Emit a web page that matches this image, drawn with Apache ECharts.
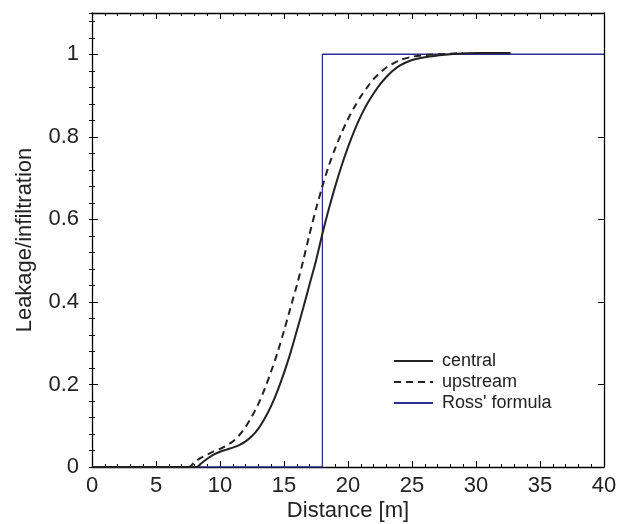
<!DOCTYPE html>
<html>
<head>
<meta charset="utf-8">
<script src="https://cdn.jsdelivr.net/npm/echarts@6/dist/echarts.min.js"></script>
<style>html,body{margin:0;padding:0;background:#fff}#c{width:629px;height:524px}</style>
</head>
<body>
<div id="c"></div>
<script>
// Central (solid) curve: [distance, leakage/infiltration]
const centralX = [0, 4, 8.2, 8.5, 9, 9.5, 10, 10.5, 11, 11.5, 12, 12.5, 13, 13.5, 14, 14.5, 15, 15.5, 16, 16.5, 17, 17.5, 18, 18.5, 19, 19.5, 20, 20.5, 21, 21.5, 22, 22.5, 23, 23.5, 24, 25, 26, 27, 28, 30, 32.7];
const centralY = [0, 0, 0, 0.008, 0.02, 0.03, 0.037, 0.042, 0.047, 0.053, 0.062, 0.075, 0.093, 0.118, 0.148, 0.185, 0.228, 0.276, 0.33, 0.385, 0.443, 0.5, 0.565, 0.625, 0.68, 0.73, 0.775, 0.815, 0.85, 0.88, 0.905, 0.927, 0.945, 0.96, 0.972, 0.986, 0.993, 0.997, 1.0, 1.003, 1.003];
// Upstream (dashed) curve
const upstreamX = [0, 4, 7.6, 8, 8.5, 9, 9.5, 10, 10.5, 11, 11.5, 12, 12.5, 13, 13.5, 14, 14.5, 15, 15.5, 16, 16.5, 17, 17.5, 18, 18.5, 19, 19.5, 20, 20.5, 21, 21.5, 22, 22.5, 23, 24, 25, 26, 27, 29];
const upstreamY = [0, 0, 0, 0.012, 0.022, 0.03, 0.038, 0.044, 0.052, 0.062, 0.077, 0.097, 0.123, 0.153, 0.19, 0.232, 0.278, 0.33, 0.385, 0.44, 0.5, 0.565, 0.625, 0.68, 0.73, 0.772, 0.81, 0.843, 0.872, 0.898, 0.92, 0.94, 0.955, 0.968, 0.985, 0.994, 0.998, 1.0, 1.003];
// Ross' formula (step)
const rossX = [0, 18, 18, 40];
const rossY = [0, 0, 1, 1];
const seriesNames = ['central', 'upstream', "Ross' formula"];
const xTickValues = [0, 5, 10, 15, 20, 25, 30, 35, 40];
const yTickValues = [0, 0.2, 0.4, 0.6, 0.8, 1];

const zip = (xs, ys) => xs.map((x, i) => [x, ys[i]]);
const FONT = 'Liberation Sans';
const TXT = '#222';

const baseY = { type: 'value', min: 0, max: 1.1, splitLine: { show: false } };
const baseX = { type: 'value', min: 0, max: 40, interval: 5, splitLine: { show: false } };

const chart = echarts.init(document.getElementById('c'), null, { renderer: 'canvas' });
chart.setOption({
  animation: false,
  backgroundColor: '#fff',
  grid: { left: 92, right: 25, top: 13, bottom: 57, show: false, containLabel: false, outerBoundsMode: 'none' },
  legend: {
    orient: 'vertical', left: 388, top: 347,
    itemWidth: 39, itemHeight: 18, itemGap: 3,
    itemStyle: { opacity: 0 },
    textStyle: { fontFamily: FONT, fontSize: 18, color: TXT, padding: [0, 0, 0, 4] },
    data: seriesNames
  },
  xAxis: [
    Object.assign({}, baseX, {
      position: 'bottom',
      name: 'Distance [m]', nameLocation: 'middle', nameGap: 33, nameMoveOverlap: false,
      nameTextStyle: { fontFamily: FONT, fontSize: 22, color: TXT },
      axisLine: { show: true, onZero: false, lineStyle: { color: '#000', width: 1.3 } },
      axisTick: { show: true, inside: true, length: 6, lineStyle: { color: '#000' } },
      minorTick: { show: true, splitNumber: 5, length: 3, lineStyle: { color: '#000' } },
      axisLabel: { fontFamily: FONT, fontSize: 22, color: TXT, margin: 8,
        formatter: v => xTickValues.includes(v) ? String(v) : '' }
    }),
    Object.assign({}, baseX, {
      position: 'top',
      axisLine: { show: true, onZero: false, lineStyle: { color: '#000', width: 1.3 } },
      axisTick: { show: true, inside: true, length: 6, lineStyle: { color: '#000' } },
      minorTick: { show: true, splitNumber: 5, length: 3, lineStyle: { color: '#000' } },
      axisLabel: { show: false }
    })
  ],
  yAxis: [
    Object.assign({}, baseY, {
      position: 'left', interval: 0.2,
      name: 'Leakage/infiltration', nameLocation: 'middle', nameGap: 56, nameMoveOverlap: false,
      nameTextStyle: { fontFamily: FONT, fontSize: 22, color: TXT },
      axisLine: { show: true, onZero: false, lineStyle: { color: '#000', width: 1.3 } },
      axisTick: { show: true, inside: true, length: 6, lineStyle: { color: '#000' } },
      axisLabel: { fontFamily: FONT, fontSize: 22, color: TXT, margin: 13, showMaxLabel: false,
        formatter: v => yTickValues.some(t => Math.abs(t - v) < 1e-9) ? String(+v.toFixed(1)) : '' }
    }),
    Object.assign({}, baseY, {
      position: 'left', interval: 0.04,
      axisLine: { show: false },
      axisTick: { show: true, inside: true, length: 3, lineStyle: { color: '#000' } },
      axisLabel: { show: false }
    }),
    Object.assign({}, baseY, {
      position: 'right', interval: 0.2,
      axisLine: { show: true, onZero: false, lineStyle: { color: '#000', width: 1.3 } },
      axisTick: { show: true, inside: true, length: 6, lineStyle: { color: '#000' } },
      axisLabel: { show: false }
    }),
    Object.assign({}, baseY, {
      position: 'right', interval: 0.04,
      axisLine: { show: false },
      axisTick: { show: true, inside: true, length: 3, lineStyle: { color: '#000' } },
      axisLabel: { show: false }
    })
  ],
  series: [
    {
      name: seriesNames[2], type: 'line', data: zip(rossX, rossY),
      xAxisIndex: 0, yAxisIndex: 0, showSymbol: false, symbol: 'none', z: 2,
      lineStyle: { color: '#2b2f92', width: 1.3 }, itemStyle: { color: '#2b2f92' }
    },
    {
      name: seriesNames[0], type: 'line', data: zip(centralX, centralY), smooth: 0.3,
      xAxisIndex: 0, yAxisIndex: 0, showSymbol: false, symbol: 'none', z: 3,
      lineStyle: { color: '#222', width: 2 }, itemStyle: { color: '#222' }
    },
    {
      name: seriesNames[1], type: 'line', data: zip(upstreamX, upstreamY), smooth: 0.3,
      xAxisIndex: 0, yAxisIndex: 0, showSymbol: false, symbol: 'none', z: 3,
      lineStyle: { color: '#222', width: 2, type: [7, 5] }, itemStyle: { color: '#222' }
    }
  ]
});
</script>
</body>
</html>
